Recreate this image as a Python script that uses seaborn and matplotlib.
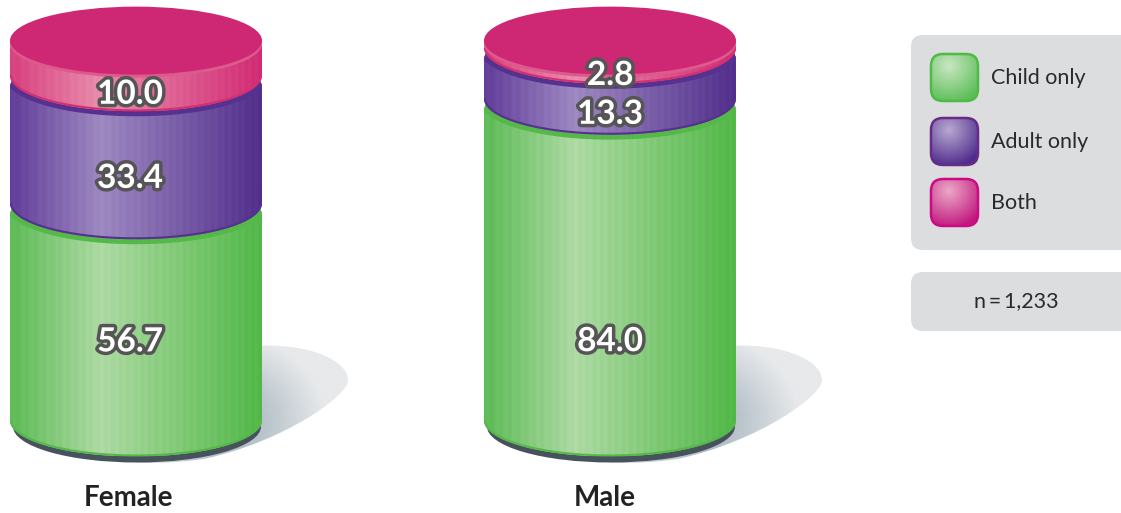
import numpy as np
import seaborn as sns
import matplotlib.pyplot as plt
import matplotlib.patheffects as pe
from matplotlib.colors import LinearSegmentedColormap, to_rgb
from matplotlib.patches import Ellipse, FancyBboxPatch
from matplotlib.path import Path

# Values
groups = ['Female', 'Male']
series_names = ['Child only', 'Adult only', 'Both']
child_only = [56.7, 84.0]
adult_only = [33.4, 13.3]
both = [10.0, 2.8]
sample_note = 'n\u2009=\u20091,233'

# Figure settings
sns.set_theme(style='white')
plt.rcParams['font.family'] = ['Lato', 'DejaVu Sans']

W, H = 1121, 513
fig = plt.figure(figsize=(W / 100, H / 100), dpi=100)

# Background axes in pixels for the shadows and legend, main axes for the bars
pax = fig.add_axes([0, 0, 1, 1], zorder=1)
ax = fig.add_axes([0, 0, 1, 1], zorder=2)
ax.patch.set_alpha(0)

# scale: 1 category = 474 px, 1 percent = 3.83 px, zero line at y=420.5, Female at x=136
sx, sy = 474.0, 3.83
x0, y0 = 136.0, 420.5
bar_w = 252 / sx
side_b = 36 / sy   # semi-minor axis of the lower edge
cap_b = 34 / sy    # semi-minor axis of the lid

# left edge, highlight, right edge, rim
palette = {
    'Child only': ['#5DBB56', '#AEDAA4', '#52B848', '#55B94A'],
    'Adult only': ['#623E9A', '#9E89C2', '#522F8C', '#56318F'],
    'Both': ['#D8407F', '#E98DAD', '#D22C74', '#D4306F'],
}
# how far below the middle of the segment each label sits, px
label_drop = {'Child only': [30, 82], 'Adult only': [39, 41], 'Both': [38, 33]}
label_shift = [-6, 0]


def body_path(left, right, bottom, top):
    t = np.linspace(0, np.pi, 80)
    cx, a = (left + right) / 2, (right - left) / 2
    # lower arc left to right, then domed top back again
    xs = np.r_[cx - a * np.cos(t), cx + a * np.cos(t)]
    ys = np.r_[bottom - side_b * np.sin(t), top - 12 / sy + side_b * np.sin(t)]
    return Path(np.c_[xs, ys])


def ribbed_gradient(cols):
    cm = LinearSegmentedColormap.from_list('g', [(0, cols[0]), (0.36, cols[1]), (1, cols[2])])
    t = np.linspace(0, 1, 500)
    rgb = cm(t)[:, :3]
    rib = 0.008 * np.sign(np.sin(2 * np.pi * 34 * t ** 1.1))
    return np.clip(rgb + rib[:, None], 0, 1)[None, :, :]


# Shadows behind the bars
for i in range(len(groups)):
    cx = x0 + i * sx
    verts = [(126, -75), (175, -76), (212, -60), (212, -40), (212, -25), (150, 20), (70, 38),
             (40, 43), (10, 43), (0, 42), (126, -75)]
    codes = [Path.MOVETO] + [Path.CURVE4] * 9 + [Path.CLOSEPOLY]
    shape = Path([(cx + dx, y0 + dy) for dx, dy in verts], codes)
    xx, yy = np.meshgrid(np.linspace(cx - 130, cx + 220, 200), np.linspace(340, 470, 100))
    d = np.clip(np.hypot(xx - (cx + 85), (yy - y0) * 1.2) / 105, 0, 1)[..., None]
    light, dark = np.array(to_rgb('#E7E9EB')), np.array(to_rgb('#97A8B4'))
    im = pax.imshow(dark + (light - dark) * d, extent=(cx - 130, cx + 220, 470, 340),
                    aspect='auto', zorder=1)
    im.set_clip_path(shape, pax.transData)
    pax.add_patch(Ellipse((cx + 1, y0 + 6), 248, 72, color='#47525C', lw=0, zorder=2))

# Stacked bars
bottoms = np.zeros(len(groups))
for k, (name, values) in enumerate(zip(series_names, [child_only, adult_only, both])):
    cols = palette[name]
    n_before = len(ax.patches)
    sns.barplot(x=groups, y=values, bottom=bottoms, width=bar_w, color=cols[3],
                saturation=1, ax=ax, zorder=3 + k * 3)
    for i, bar in enumerate(ax.patches[n_before:]):
        left, right = bar.get_x(), bar.get_x() + bar.get_width()
        low, high = bar.get_y(), bar.get_y() + bar.get_height()
        shape = body_path(left, right, low, high)
        bar.set_clip_path(shape, ax.transData)
        im = ax.imshow(ribbed_gradient(cols), extent=(left, right, low - side_b, high + side_b),
                       aspect='auto', zorder=3 + k * 3)
        im.set_clip_path(shape, ax.transData)

        t = np.linspace(0, np.pi, 80)
        cx, a = (left + right) / 2, (right - left) / 2
        # rim along the lower edge
        rim, = ax.plot(cx - a * np.cos(t), low - side_b * np.sin(t), color=cols[3], lw=3,
                       zorder=3 + k * 3 + 0.5, solid_capstyle='butt')
        rim.set_clip_path(shape, ax.transData)

        if name == 'Both':
            # lid with a lighter lip under it
            ax.add_patch(Ellipse((cx, high - 6.5 / sy), 2 * a, 2 * cap_b, color='#DE5A8D', lw=0,
                                 zorder=3 + k * 3 + 1))
            ax.add_patch(Ellipse((cx, high - 3.5 / sy), 2 * a, 2 * cap_b, color='#CE2874', lw=0,
                                 zorder=3 + k * 3 + 1))
        else:
            # band where the segment above sits on this one
            band, = ax.plot(cx - a * np.cos(t), high - side_b * np.sin(t), color=cols[3], lw=7,
                            zorder=3 + k * 3 + 0.5, solid_capstyle='butt')
            band.set_clip_path(shape, ax.transData)

        ax.annotate(f'{values[i]:.1f}', ((left + right) / 2, (low + high) / 2),
                    xytext=(label_shift[i] * 0.72, -label_drop[name][i] * 0.72),
                    textcoords='offset points', ha='center', va='center',
                    fontsize=24, fontweight='bold', color='white', zorder=30,
                    path_effects=[pe.withStroke(linewidth=5, foreground='#555555')])
    bottoms = bottoms + np.array(values)

# Category names under the bars
for i, name in enumerate(groups):
    ax.annotate(name, (i, 0), xytext=([-7, -5][i] * 0.72, -77 * 0.72), textcoords='offset points',
                ha='center', va='center', fontsize=20, fontweight='bold', color='#222222')

# Legend panels
panel = '#DCDDDF'
pax.add_patch(FancyBboxPatch((923, 47), 230, 191, boxstyle='round,pad=12,rounding_size=12',
                             fc=panel, ec='none', zorder=1))
pax.add_patch(FancyBboxPatch((923, 284), 230, 35, boxstyle='round,pad=12,rounding_size=12',
                             fc=panel, ec='none', zorder=1))

swatch_cols = {
    'Child only': ['#CBE6C3', '#5CBF58', '#4FBA45'],
    'Adult only': ['#B9A9D1', '#4F2C8C', '#6A2A87'],
    'Both': ['#EBA9C6', '#C2197F', '#CC0A84'],
}
for name, top in zip(series_names, [54, 118, 179]):
    c_in, c_out, c_edge = [np.array(to_rgb(c)) for c in swatch_cols[name]]
    box = FancyBboxPatch((943, top + 12), 23, 23, boxstyle='round,pad=12,rounding_size=12',
                         fc='none', ec=c_edge, lw=1.8, zorder=3)
    pax.add_patch(box)
    xx, yy = np.meshgrid(np.linspace(0, 1, 60), np.linspace(0, 1, 60))
    d = np.clip(np.hypot(xx - 0.38, yy - 0.25) / 0.8, 0, 1)[..., None]
    im = pax.imshow(c_in + (c_out - c_in) * d, extent=(931, 978, top + 47, top), aspect='auto', zorder=2)
    im.set_clip_path(box)
    pax.text(991, top + 24, name, ha='left', va='center', fontsize=15.5, color='#2A2A2A', zorder=3)

pax.text(1016, 301, sample_note, ha='center', va='center', fontsize=15.5, color='#2A2A2A', zorder=3)

pax.set_xlim(0, W)
pax.set_ylim(H, 0)
pax.axis('off')

ax.set_xlim(-x0 / sx, (W - x0) / sx)
ax.set_ylim((y0 - H) / sy, y0 / sy)
ax.axis('off')

plt.savefig('out.png', dpi=100)
